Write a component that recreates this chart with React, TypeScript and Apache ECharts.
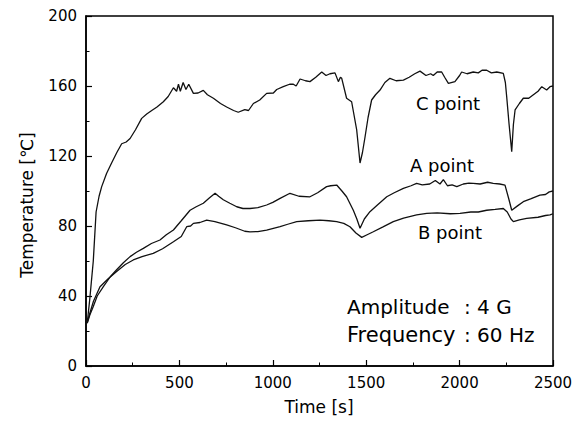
import React, { useEffect, useRef } from "react";
import * as echarts from "echarts";

const seriesC: [number, number][] = [
  [0, 26], [7, 25], [20, 38], [39, 60], [54, 88], [70, 97], [84, 102.5], [110, 110], [137, 116], [165, 122],
  [191, 127], [215, 128], [236, 130], [265, 135], [298, 141.5], [325, 144], [352, 146], [380, 148], [414, 151],
  [440, 154], [468, 159], [485, 157], [495, 161], [505, 157], [520, 162], [535, 158], [550, 161], [575, 155.8],
  [600, 156], [628, 157.5], [650, 155], [682, 153], [720, 150], [753, 148], [790, 146], [815, 145], [850, 146.5],
  [870, 146], [896, 150], [930, 152], [967, 155.8], [1003, 156], [1021, 158], [1056, 159.6], [1090, 161],
  [1110, 161], [1125, 160], [1146, 164], [1175, 163], [1199, 162.5], [1230, 165], [1262, 168], [1285, 166],
  [1306, 167], [1333, 167.5], [1351, 162.5], [1362, 165], [1369, 164.4], [1395, 153], [1422, 151], [1449, 135],
  [1467, 116], [1480, 122], [1494, 131], [1510, 142], [1529, 152], [1550, 155], [1574, 157.7], [1600, 162],
  [1627, 164.4], [1660, 163], [1699, 163.4], [1730, 165], [1760, 167], [1788, 168.5], [1820, 166], [1845, 167],
  [1859, 166], [1880, 168], [1904, 168], [1920, 165], [1940, 161.5], [1975, 162.5], [2000, 166], [2011, 168],
  [2040, 167], [2073, 168], [2100, 167.5], [2120, 169], [2145, 169], [2170, 167.5], [2199, 168], [2234, 167.2],
  [2245, 162], [2252, 154], [2265, 138], [2279, 122.5], [2288, 138], [2297, 146.3], [2320, 150], [2341, 153],
  [2370, 153], [2395, 155], [2420, 157], [2440, 159.6], [2466, 157.7], [2484, 159.6], [2500, 160],
];

const seriesA: [number, number][] = [
  [0, 26], [7, 24.5], [20, 29], [39, 34], [60, 40], [93, 45.3], [130, 51], [164, 55], [200, 59], [236, 62.5],
  [270, 65], [307, 67.2], [350, 70], [396, 72], [430, 75], [468, 77.7], [510, 83], [557, 89], [590, 91],
  [628, 93], [660, 96], [691, 98.7], [710, 97], [735, 95], [770, 93], [807, 91], [840, 90], [878, 90],
  [920, 90.5], [967, 92], [1000, 93.5], [1039, 95.8], [1092, 98.7], [1140, 97], [1199, 96.7], [1240, 99],
  [1288, 102.5], [1310, 103], [1342, 103.4], [1370, 100], [1395, 96.7], [1431, 89], [1450, 84], [1467, 78.7],
  [1490, 84], [1520, 88.2], [1560, 92], [1610, 96.7], [1650, 99], [1699, 101.5], [1740, 103], [1770, 104.4],
  [1800, 103.5], [1840, 104], [1870, 106], [1895, 104], [1913, 106.5], [1935, 103], [1960, 103.5], [1985, 102.5],
  [2020, 104], [2050, 104.5], [2073, 104.4], [2110, 104], [2150, 105], [2180, 104.4], [2215, 104], [2243, 103.4],
  [2262, 96], [2279, 89], [2310, 91.5], [2341, 93.9], [2380, 95.5], [2430, 97.7], [2460, 98], [2480, 99.5],
  [2500, 100],
];

const seriesB: [number, number][] = [
  [0, 26], [7, 25], [20, 30], [40, 37], [75, 45.3], [120, 50], [164, 54], [210, 58], [253, 60.6], [300, 62.5],
  [360, 64.4], [410, 67], [468, 71], [510, 74], [539, 79.6], [560, 80], [575, 81.5], [610, 82], [646, 83.4],
  [690, 82.5], [753, 80.6], [800, 79], [850, 77], [878, 76.7], [920, 76.8], [967, 77.7], [1039, 79.6], [1080, 81],
  [1128, 82.5], [1190, 83], [1253, 83.4], [1300, 83], [1342, 82.5], [1380, 81.5], [1413, 79.6], [1445, 76],
  [1476, 73.5], [1505, 75], [1538, 76.7], [1590, 79.5], [1645, 82.5], [1700, 84.5], [1770, 86.3], [1824, 87.2],
  [1880, 87.5], [1950, 87], [2002, 87.2], [2060, 88], [2100, 88], [2145, 89], [2190, 89.5], [2234, 90],
  [2255, 88], [2275, 84], [2288, 82.5], [2320, 83.5], [2359, 84.4], [2420, 85], [2460, 86], [2484, 86.3],
  [2500, 87],
];

const xLabelName = "Time [s]";
const yLabelName = "Temperature [℃]";
const curveLabels = ["C point", "A point", "B point"];
const infoNames = ["Amplitude", "Frequency"];
const infoValues = [": 4 G", ": 60 Hz"];

const FONT = "DejaVu Sans, Arial, sans-serif";

export default function App() {
  const ref = useRef<HTMLDivElement>(null);
  useEffect(() => {
    if (!ref.current) return;
    const chart = echarts.init(ref.current, undefined, { renderer: "svg" });
    const axisCommon = {
      axisLine: { show: true, onZero: false, lineStyle: { color: "#000", width: 1.5 } },
      axisTick: { show: true, inside: true, length: 6, lineStyle: { color: "#000", width: 1.2 } },
      minorTick: { show: true, splitNumber: 2, length: 3.5, lineStyle: { color: "#000", width: 1 } },
      splitLine: { show: false },
      minorSplitLine: { show: false },
      axisLabel: { color: "#000", fontSize: 15, fontFamily: FONT, margin: 9, formatter: (v: number) => String(v) },
    };
    const lineSeries = (name: string, data: [number, number][]) => ({
      name,
      type: "line",
      data,
      showSymbol: false,
      symbol: "none",
      lineStyle: { color: "#111", width: 1.3 },
      silent: true,
    });
    chart.setOption({
      animation: false,
      backgroundColor: "#fff",
      grid: { left: 86, right: 31, top: 16, bottom: 61, show: true, borderColor: "#000", borderWidth: 1.5 },
      xAxis: { type: "value", min: 0, max: 2500, interval: 500, ...axisCommon },
      yAxis: { type: "value", min: 0, max: 200, interval: 40, ...axisCommon },
      series: [lineSeries("C", seriesC), lineSeries("A", seriesA), lineSeries("B", seriesB)],
      graphic: [
        { type: "text", x: 319, y: 407, style: { text: xLabelName, font: `17px ${FONT}`, fill: "#000", align: "center", verticalAlign: "middle" } },
        { type: "text", x: 27, y: 205, rotation: Math.PI / 2, style: { text: yLabelName, font: `17px ${FONT}`, fill: "#000", align: "center", verticalAlign: "middle" } },
        { type: "text", x: 448, y: 103, style: { text: curveLabels[0], font: `18px ${FONT}`, fill: "#000", align: "center", verticalAlign: "middle" } },
        { type: "text", x: 442, y: 165, style: { text: curveLabels[1], font: `18px ${FONT}`, fill: "#000", align: "center", verticalAlign: "middle" } },
        { type: "text", x: 450, y: 232, style: { text: curveLabels[2], font: `18px ${FONT}`, fill: "#000", align: "center", verticalAlign: "middle" } },
        { type: "text", x: 347, y: 307, style: { text: infoNames[0], font: `20px ${FONT}`, fill: "#000", align: "left", verticalAlign: "middle" } },
        { type: "text", x: 464, y: 307, style: { text: infoValues[0], font: `20px ${FONT}`, fill: "#000", align: "left", verticalAlign: "middle" } },
        { type: "text", x: 347, y: 335, style: { text: infoNames[1], font: `21px ${FONT}`, fill: "#000", align: "left", verticalAlign: "middle" } },
        { type: "text", x: 464, y: 335, style: { text: infoValues[1], font: `20px ${FONT}`, fill: "#000", align: "left", verticalAlign: "middle" } },
      ],
    });
    return () => chart.dispose();
  }, []);
  return <div ref={ref} style={{ width: 584, height: 427, position: "absolute", left: 0, top: 0 }} />;
}
